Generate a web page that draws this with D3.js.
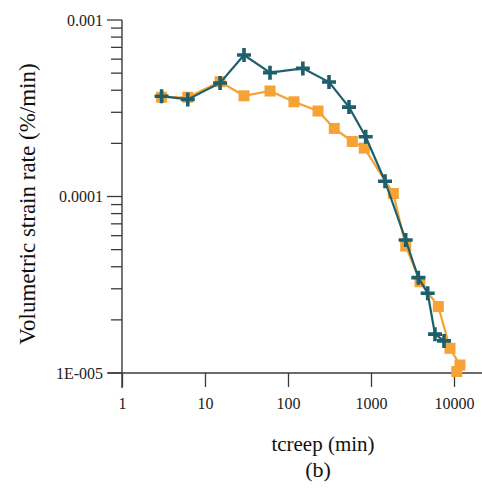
<!DOCTYPE html>
<html><head><meta charset="utf-8">
<script src="https://cdn.jsdelivr.net/npm/d3@7"></script>
<style>body{margin:0;background:#fff}svg{display:block}
svg text{font-family:"Liberation Serif","Times New Roman",Times,Tinos,serif}</style>
</head><body>
<script>
const blueX = [3.0, 6.2, 15.2, 29.5, 60.7, 151, 312, 543, 863, 1475, 2618, 3717, 4820, 5900, 7580];
const blueY = [3.7e-4, 3.55e-4, 4.4e-4, 6.33e-4, 5.03e-4, 5.32e-4, 4.45e-4, 3.21e-4, 2.18e-4, 1.22e-4, 5.67e-5, 3.47e-5, 2.83e-5, 1.66e-5, 1.52e-5];
const orangeX = [3.0, 6.2, 15.2, 29.5, 60.7, 118, 230, 361, 595, 830, 1858, 2620, 3890, 6470, 8950, 11800, 10800];
const orangeY = [3.65e-4, 3.65e-4, 4.47e-4, 3.72e-4, 3.96e-4, 3.44e-4, 3.05e-4, 2.43e-4, 2.05e-4, 1.88e-4, 1.04e-4, 5.24e-5, 3.29e-5, 2.38e-5, 1.38e-5, 1.11e-5, 1.02e-5];
const xTicks = [1, 10, 100, 1000, 10000];
const xTickLabels = ["1", "10", "100", "1000", "10000"];
const yTicks = [1e-3, 1e-4, 1e-5];
const yTickLabels = ["0.001", "0.0001", "1E-005"];

const W = 482, H = 489;
const blueColor = "#1d5f6b", orangeColor = "#f6a234", axisColor = "#3a3a3a";

const svg = d3.select("body").append("svg").attr("width", W).attr("height", H);

const x = d3.scaleLog().domain([1, Math.pow(10, 360/83)]).range([122, 482]);
const y = d3.scaleLog().domain([1e-5, 1e-3]).range([373, 20]);

const minorY = [];
for (let e = -5; e < -3; e++) for (let m = 2; m <= 9; m++) minorY.push(m * Math.pow(10, e));

const yAxisG = svg.append("g").attr("transform", "translate(122,0)");
yAxisG.selectAll("line.minor").data(minorY).enter().append("line")
  .attr("x1", -11).attr("x2", 0).attr("y1", d => y(d)).attr("y2", d => y(d))
  .attr("stroke", axisColor).attr("stroke-width", 1.3);
yAxisG.selectAll("line.major").data(yTicks).enter().append("line")
  .attr("x1", -15).attr("x2", 0).attr("y1", d => y(d)).attr("y2", d => y(d))
  .attr("stroke", axisColor).attr("stroke-width", 1.3);
yAxisG.selectAll("text").data(yTicks).enter().append("text")
  .attr("x", -19).attr("y", d => y(d)).attr("dy", "0.35em")
  .attr("text-anchor", "end").attr("font-size", 16)
  .attr("fill", "#222").text((d, i) => yTickLabels[i]);
yAxisG.append("line").attr("x1", 0).attr("x2", 0).attr("y1", y(1e-3)).attr("y2", 388)
  .attr("stroke", axisColor).attr("stroke-width", 1.4);

const xAxis = d3.axisBottom(x).tickValues(xTicks).tickSize(14).tickSizeOuter(0)
  .tickFormat((d, i) => xTickLabels[i]);
const xAxisG = svg.append("g").attr("transform", "translate(0,373)").call(xAxis);
xAxisG.select(".domain").remove();
xAxisG.attr("font-family", null);
xAxisG.selectAll(".tick line").attr("stroke", axisColor).attr("stroke-width", 1.3);
xAxisG.selectAll(".tick text").attr("font-size", 16)
  .attr("fill", "#222").attr("y", 25).attr("dy", "0.71em");
svg.append("line").attr("x1", 108).attr("x2", 482).attr("y1", 373).attr("y2", 373)
  .attr("stroke", axisColor).attr("stroke-width", 1.4);

const line = d3.line().x(d => x(d[0])).y(d => y(d[1]));
const orangeData = orangeX.map((v, i) => [v, orangeY[i]]);
const blueData = blueX.map((v, i) => [v, blueY[i]]);

svg.append("path").datum(orangeData).attr("d", line).attr("fill", "none")
  .attr("stroke", orangeColor).attr("stroke-width", 2.2);
svg.selectAll("rect.o").data(orangeData).enter().append("rect").attr("class", "o")
  .attr("x", d => x(d[0]) - 5.5).attr("y", d => y(d[1]) - 5.5)
  .attr("width", 11).attr("height", 11).attr("fill", orangeColor);

svg.append("path").datum(blueData).attr("d", line).attr("fill", "none")
  .attr("stroke", blueColor).attr("stroke-width", 2.2);
svg.selectAll("path.b").data(blueData).enter().append("path").attr("class", "b")
  .attr("transform", d => `translate(${x(d[0])},${y(d[1])})`)
  .attr("d", "M-7,0H7M0,-7V7").attr("stroke", blueColor).attr("stroke-width", 3.6)
  .attr("fill", "none");

svg.append("text").attr("transform", "translate(35,204) rotate(-90)")
  .attr("text-anchor", "middle").attr("font-size", 23)
  .attr("fill", "#111").text("Volumetric strain rate (%/min)");
svg.append("text").attr("x", 323).attr("y", 451).attr("text-anchor", "middle")
  .attr("font-size", 21).attr("fill", "#111")
  .text("tcreep (min)");
svg.append("text").attr("x", 318).attr("y", 477).attr("text-anchor", "middle")
  .attr("font-size", 22).attr("fill", "#111")
  .text("(b)");
</script>
</body></html>
